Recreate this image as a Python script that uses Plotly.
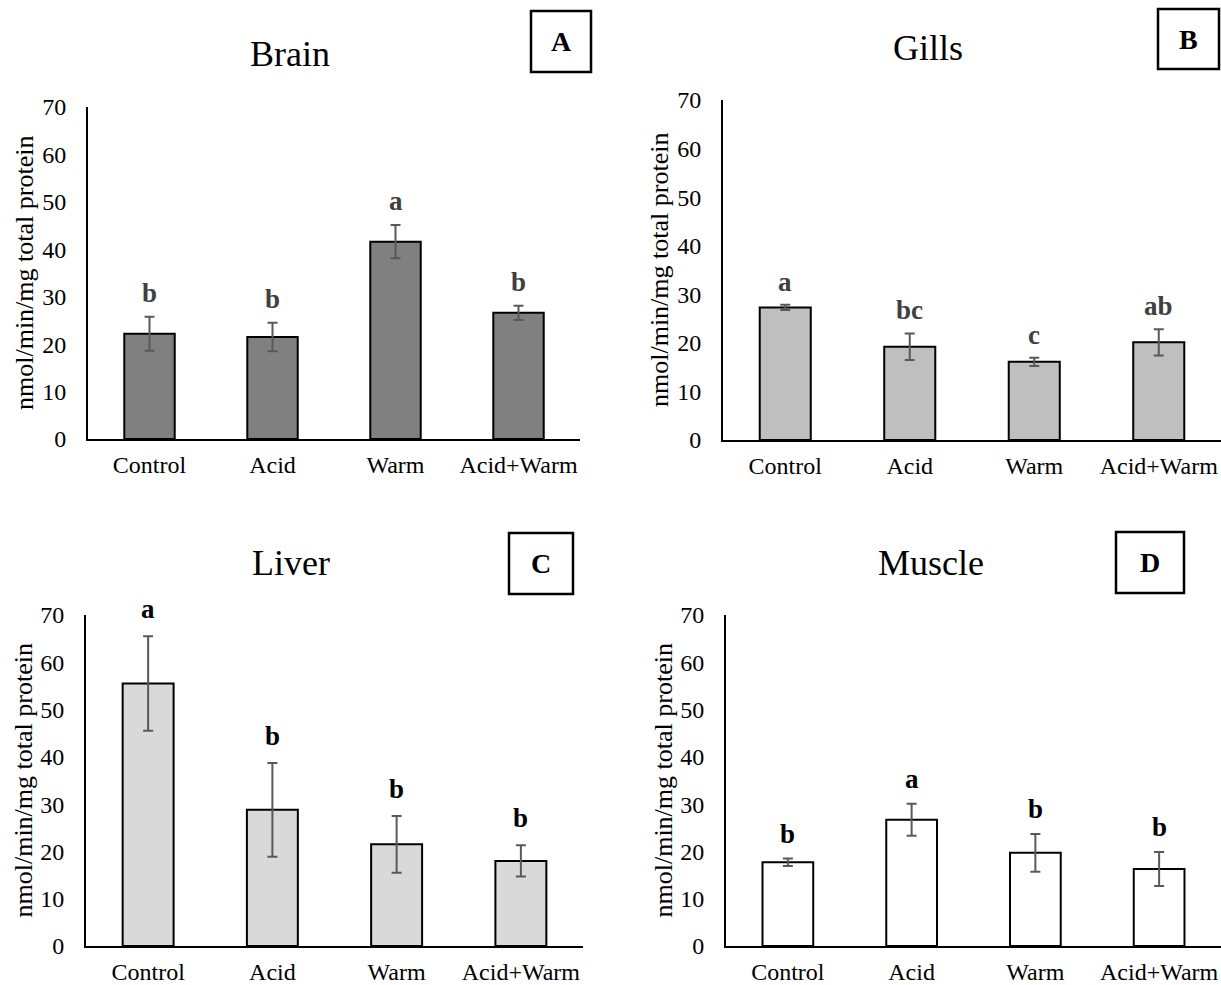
import plotly.graph_objects as go

W, H = 1221, 985
FONT = "Liberation Serif, Times New Roman, serif"

categories = ["Control", "Acid", "Warm", "Acid+Warm"]
y_ticks = [0, 10, 20, 30, 40, 50, 60, 70]

brain_values = [22.2, 21.5, 41.6, 26.6]
brain_errors = [3.6, 3.0, 3.5, 1.5]
brain_letters = ["b", "b", "a", "b"]

gills_values = [27.3, 19.2, 16.1, 20.1]
gills_errors = [0.55, 2.75, 0.85, 2.7]
gills_letters = ["a", "bc", "c", "ab"]

liver_values = [55.5, 28.8, 21.5, 18.0]
liver_errors = [10.0, 9.9, 6.0, 3.3]
liver_letters = ["a", "b", "b", "b"]

muscle_values = [17.7, 26.7, 19.7, 16.3]
muscle_errors = [0.8, 3.4, 4.0, 3.6]
muscle_letters = ["b", "a", "b", "b"]

titles = ["Brain", "Gills", "Liver", "Muscle"]
panel_tags = ["A", "B", "C", "D"]


def px_x(p):
    return p / W


def px_y(p):
    return 1 - p / H


# panel geometry in screen pixels: axis left, axis right, axis top (70), axis bottom (0)
panels = [
    dict(vals=brain_values, errs=brain_errors, letters=brain_letters, fill="#808080",
         lcolor="#404040", box=(88, 580, 107, 439), title_xy=(290, 54),
         tag_box=(531, 591, 11, 72), lshift=7),
    dict(vals=gills_values, errs=gills_errors, letters=gills_letters, fill="#bfbfbf",
         lcolor="#404040", box=(723, 1221, 100, 440), title_xy=(928, 48),
         tag_box=(1158, 1219, 9, 69), lshift=6),
    dict(vals=liver_values, errs=liver_errors, letters=liver_letters, fill="#d9d9d9",
         lcolor="#000000", box=(86, 583, 615, 946), title_xy=(291, 563),
         tag_box=(509, 573, 533, 594), lshift=10),
    dict(vals=muscle_values, errs=muscle_errors, letters=muscle_letters, fill="#ffffff",
         lcolor="#000000", box=(726, 1221, 615, 946), title_xy=(931, 563),
         tag_box=(1116, 1184, 532, 593), lshift=8),
]

fig = go.Figure()
annotations = []
shapes = []

for i, p in enumerate(panels):
    n = i + 1
    xa = "x" if n == 1 else f"x{n}"
    ya = "y" if n == 1 else f"y{n}"
    fig.add_trace(go.Bar(
        x=categories, y=p["vals"], xaxis=xa, yaxis=ya,
        marker=dict(color=p["fill"], line=dict(color="black", width=2)),
        error_y=dict(type="data", array=p["errs"], color="#595959", thickness=2, width=5),
        showlegend=False, hoverinfo="skip",
    ))
    l, r, t, b = p["box"]
    xdom = [max(0.0, px_x(l)), min(1.0, px_x(r))]
    ydom = [px_y(b), px_y(t)]
    axis_font = dict(family=FONT, size=24, color="black")
    fig.update_layout(**{
        ("xaxis" if n == 1 else f"xaxis{n}"): dict(
            domain=xdom, anchor=ya, showline=True, linecolor="black", linewidth=2,
            ticks="", tickfont=axis_font, showgrid=False, zeroline=False,
            ticklabelstandoff=3, automargin=False, fixedrange=True),
        ("yaxis" if n == 1 else f"yaxis{n}"): dict(
            domain=ydom, anchor=xa, range=[0, 70], tickvals=y_ticks,
            showline=True, linecolor="black", linewidth=2, ticks="",
            tickfont=axis_font, showgrid=False, zeroline=False,
            ticklabelstandoff=15, automargin=False, fixedrange=True),
    })
    # y-axis title
    annotations.append(dict(
        text="nmol/min/mg total protein", textangle=-90, xref="paper", yref="paper",
        x=px_x(l - 63), y=(ydom[0] + ydom[1]) / 2, xanchor="center", yanchor="middle",
        showarrow=False, font=dict(family=FONT, size=26, color="black")))
    # chart title
    tx, ty = p["title_xy"]
    annotations.append(dict(
        text=titles[i], xref="paper", yref="paper", x=px_x(tx), y=px_y(ty),
        xanchor="center", yanchor="middle", showarrow=False,
        font=dict(family=FONT, size=36, color="black")))
    # panel tag box
    bl, br, bt, bb = p["tag_box"]
    shapes.append(dict(type="rect", xref="paper", yref="paper",
                       x0=px_x(bl), x1=px_x(br), y0=px_y(bb), y1=px_y(bt),
                       line=dict(color="black", width=2.5), fillcolor="white"))
    annotations.append(dict(
        text=panel_tags[i], xref="paper", yref="paper",
        x=px_x((bl + br) / 2), y=px_y((bt + bb) / 2), xanchor="center", yanchor="middle",
        showarrow=False, font=dict(family=FONT, size=28, color="black", weight="bold")))
    # significance letters
    for c, v, e, let in zip(categories, p["vals"], p["errs"], p["letters"]):
        annotations.append(dict(
            text=let, xref=xa, yref=ya, x=c, y=v + e, xanchor="center", yanchor="bottom",
            yshift=p["lshift"], showarrow=False,
            font=dict(family=FONT, size=27, color=p["lcolor"], weight="bold")))

fig.update_layout(
    width=W, height=H, margin=dict(l=0, r=0, t=0, b=0, autoexpand=False),
    paper_bgcolor="white", plot_bgcolor="white",
    bargap=0.59, annotations=annotations, shapes=shapes,
    font=dict(family=FONT, color="black"),
)

# remove the browser's default page margin so the 1221x985 figure fills the window exactly
fig.write_html(
    "out.html",
    config={"displayModeBar": False, "staticPlot": True},
    post_script="document.body.style.margin='0';"
                "document.documentElement.style.overflow='hidden';",
)
